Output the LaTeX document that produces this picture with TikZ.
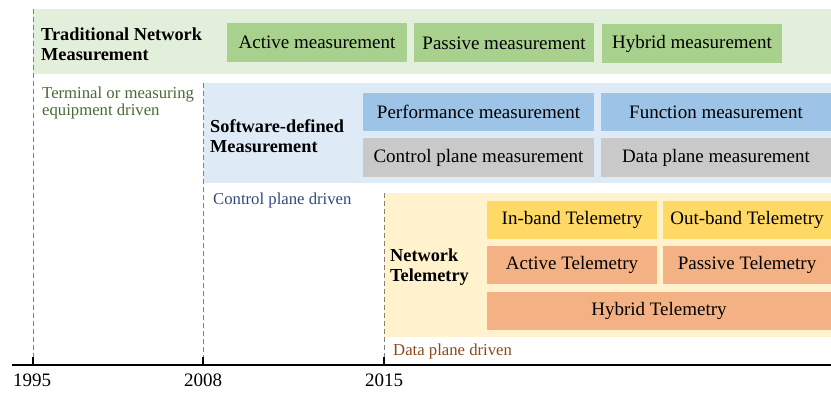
\documentclass[tikz,border=0pt]{standalone}
\usepackage{fontspec}
\setmainfont{Liberation Serif}
\definecolor{gBand}{HTML}{E2EFDA}
\definecolor{gBox}{HTML}{A9D18E}
\definecolor{bBand}{HTML}{DEEBF7}
\definecolor{bBox}{HTML}{9DC3E6}
\definecolor{grBox}{HTML}{C9C9C9}
\definecolor{yBand}{HTML}{FFF2CC}
\definecolor{yBox}{HTML}{FFD966}
\definecolor{oBox}{HTML}{F4B183}
\definecolor{gNote}{HTML}{476B35}
\definecolor{bNote}{HTML}{2E4A7D}
\definecolor{oNote}{HTML}{8A4A1E}
\definecolor{guide}{HTML}{808080}
\begin{document}
\begin{tikzpicture}[x=1pt,y=-1pt,
  band/.style={draw=none,inner sep=0pt,outer sep=0pt,anchor=north west},
  cell/.style={draw=none,inner sep=0pt,outer sep=0pt,anchor=north west,
    font=\fontsize{19}{19}\selectfont},
  title/.style={inner sep=0pt,anchor=west,align=left,
    font=\bfseries\fontsize{18.3}{20}\selectfont},
  note/.style={inner sep=0pt,anchor=north west,align=left,
    font=\fontsize{16.7}{17}\selectfont},
  year/.style={inner sep=0pt,anchor=north,font=\fontsize{19}{19}\selectfont},
  guideline/.style={draw=guide,line width=0.9pt,dash pattern=on 5pt off 3pt},
  axisline/.style={draw=black,line width=1.3pt}]
\useasboundingbox (0,0) rectangle (831,393);

% background bands of the three eras
\node[band,fill=gBand,minimum width=798pt,minimum height=65pt] (tnm) at (33,9) {};
\node[band,fill=bBand,minimum width=628pt,minimum height=100pt] (sdm) at (203,83) {};
\node[band,fill=yBand,minimum width=447pt,minimum height=144pt] (nt) at (384,193) {};

% traditional network measurement
\node[title] (tnmT) at (41,44) {Traditional Network\\Measurement};
\node[cell,fill=gBox,minimum width=180pt,minimum height=39pt] (am) at (227,23) {Active measurement};
\node[cell,fill=gBox,minimum width=180pt,minimum height=39pt] (pm) at (414,23.5) {Passive measurement};
\node[cell,fill=gBox,minimum width=180pt,minimum height=39pt] (hm) at (602,24) {Hybrid measurement};

% software-defined measurement
\node[title] (sdmT) at (210,136) {Software-defined\\Measurement};
\node[cell,fill=bBox,minimum width=231pt,minimum height=38pt] (perf) at (363,93) {Performance measurement};
\node[cell,fill=bBox,minimum width=230pt,minimum height=38pt] (func) at (601,93) {Function measurement};
\node[cell,fill=grBox,minimum width=231pt,minimum height=39pt] (cpm) at (363,138) {Control plane measurement};
\node[cell,fill=grBox,minimum width=230pt,minimum height=39pt] (dpm) at (601,138) {Data plane measurement};

% network telemetry
\node[title] (ntT) at (390,267) {Network\\Telemetry};
\node[cell,fill=yBox,minimum width=170pt,minimum height=38pt] (ib) at (487,201) {In-band Telemetry};
\node[cell,fill=yBox,minimum width=168pt,minimum height=38pt] (ob) at (663,201) {Out-band Telemetry};
\node[cell,fill=oBox,minimum width=170pt,minimum height=38pt] (at) at (487,246) {Active Telemetry};
\node[cell,fill=oBox,minimum width=168pt,minimum height=38pt] (pt) at (663,246) {Passive Telemetry};
\node[cell,fill=oBox,minimum width=344pt,minimum height=38pt] (ht) at (487,292) {Hybrid Telemetry};

% driving forces
\node[note,text=gNote] (n1) at (42,87) {Terminal or measuring\\equipment driven};
\node[note,text=bNote] (n2) at (213,193) {Control plane driven};
\node[note,text=oNote] (n3) at (393,344) {Data plane driven};

% timeline
\coordinate (axL) at (12,365);
\coordinate (axR) at (831,365);
\coordinate (t1) at (33,365);
\coordinate (t2) at (203,365);
\coordinate (t3) at (384,365);
\draw[guideline] (tnm.north west) -- (t1);
\draw[guideline] (sdm.north west) -- (t2);
\draw[guideline] (nt.north west) -- (t3);
\draw[axisline] (axL) -- (axR);
\draw[axisline] (t1) -- ++(0,-8);
\draw[axisline] (t2) -- ++(0,-8);
\draw[axisline] (t3) -- ++(0,-8);
\node[year] (y1) at (32,374) {1995};
\node[year] (y2) at (203,374) {2008};
\node[year] (y3) at (384,374) {2015};
\end{tikzpicture}
\end{document}
